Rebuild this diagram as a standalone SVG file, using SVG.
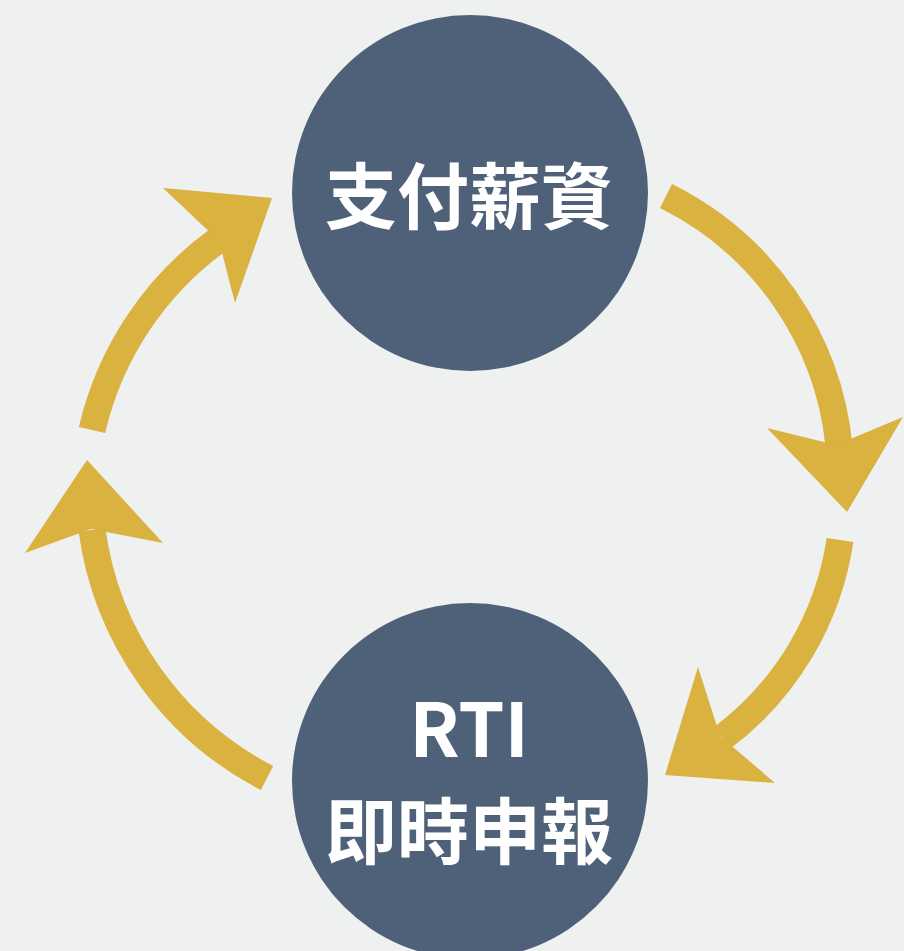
<svg xmlns="http://www.w3.org/2000/svg" width="904" height="951" viewBox="0 0 904 951">
  <style>
    .node { fill: #4e6178; }
    .label { fill: #ffffff; font-family: "Noto Sans CJK TC", "Noto Sans", sans-serif; font-weight: 700; text-anchor: middle; }
    .shaft { fill: none; stroke: #d9b23f; stroke-width: 27; stroke-linecap: butt; }
    .head { fill: #d9b23f; }
  </style>
  <rect width="904" height="951" fill="#eff0f0"/>
  <g id="connectors">
    <g id="arrow-pay-to-rti-1">
      <path class="shaft" d="M666 196 A314 314 0 0 1 839 446"/>
      <polygon class="head" points="767,428 847,512 903,417 836,445"/>
    </g>
    <g id="arrow-pay-to-rti-2">
      <path class="shaft" d="M840 540 A303 303 0 0 1 722 738"/>
      <polygon class="head" points="698,667 665,775 775,783 720,736"/>
    </g>
    <g id="arrow-rti-to-pay-1">
      <path class="shaft" d="M267 778 A329 329 0 0 1 92 530"/>
      <polygon class="head" points="25,553 87,460 163,543 91,529"/>
    </g>
    <g id="arrow-rti-to-pay-2">
      <path class="shaft" d="M92 430 A326 326 0 0 1 218 240"/>
      <polygon class="head" points="163,188 272,198 235,303 219,241"/>
    </g>
  </g>
  <g id="node-pay">
    <circle class="node" cx="470" cy="193" r="178"/>
    <text class="label" x="469" y="223" font-size="72">支付薪資</text>
  </g>
  <g id="node-rti">
    <circle class="node" cx="470" cy="781" r="178"/>
    <text class="label" x="469" y="757" font-size="74">RTI</text>
    <text class="label" x="469" y="858" font-size="72">即時申報</text>
  </g>
</svg>
